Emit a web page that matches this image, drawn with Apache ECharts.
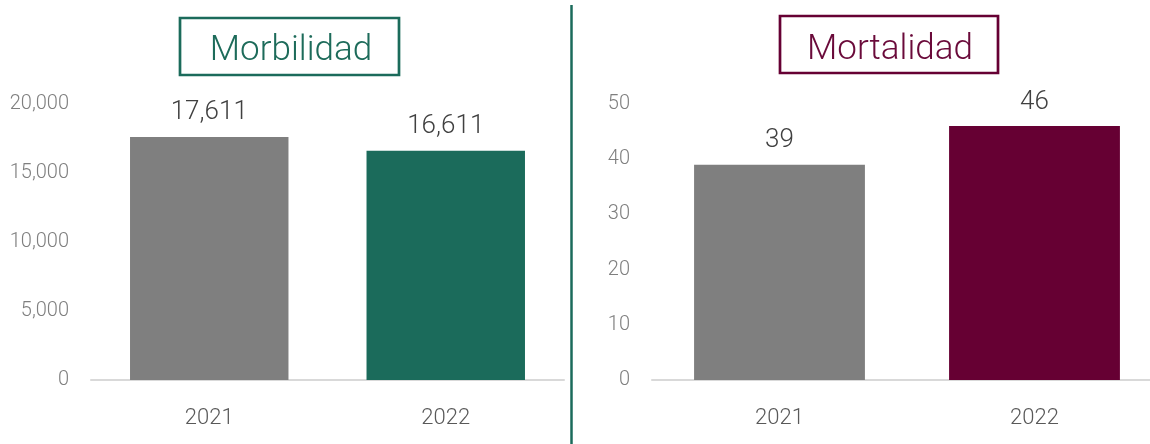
<!DOCTYPE html>
<html>
<head>
<meta charset="utf-8">
<script src="https://cdn.jsdelivr.net/npm/echarts@6/dist/echarts.min.js"></script>
<style>
html,body{margin:0;padding:0;background:#fff;}
#c{width:1150px;height:444px;}
</style>
</head>
<body>
<div id="c"></div>
<script>
const categories = ['2021', '2022'];
const morbilidad = [17611, 16611];
const mortalidad = [39, 46];
const titles = ['Morbilidad', 'Mortalidad'];

const GREY = '#7f7f7f';
const GREEN = '#1b6b5b';
const MAROON = '#660033';
const FONT = 'Roboto';

const chart = echarts.init(document.getElementById('c'), null, {renderer: 'canvas'});

function fmt(v) { return Number(v).toLocaleString('en-US'); }

function yAxis(idx, max, interval) {
  return {
    type: 'value', gridIndex: idx, min: 0, max: max, interval: interval,
    axisLine: {show: false}, axisTick: {show: false}, splitLine: {show: false},
    axisLabel: {fontFamily: FONT, fontWeight: 300, fontSize: 20, color: '#7f7f7f', margin: 22, padding: [4, 0, 0, 0], formatter: fmt}
  };
}
function xAxis(idx) {
  return {
    type: 'category', gridIndex: idx, data: categories,
    axisLine: {show: true, lineStyle: {color: '#d9d9d9', width: 2}},
    axisTick: {show: false},
    axisLabel: {fontFamily: FONT, fontWeight: 300, fontSize: 22, color: '#595959', margin: 27}
  };
}
function series(idx, data, color) {
  return {
    type: 'bar', xAxisIndex: idx, yAxisIndex: idx, barWidth: '67%',
    data: data.map((v, i) => ({value: v, itemStyle: {color: i === 0 ? GREY : color}})),
    label: {show: true, position: 'top', distance: 11, fontFamily: FONT, fontWeight: 300, fontSize: 26, color: '#404040', formatter: p => fmt(p.value)},
    silent: true, animation: false
  };
}

chart.setOption({
  animation: false,
  grid: [
    {left: 91, top: 104, width: 473, height: 276, outerBoundsMode: 'none', containLabel: false},
    {left: 652, top: 104, width: 510, height: 276, outerBoundsMode: 'none', containLabel: false}
  ],
  xAxis: [xAxis(0), xAxis(1)],
  yAxis: [yAxis(0, 20000, 5000), yAxis(1, 50, 10)],
  series: [series(0, morbilidad, GREEN), series(1, mortalidad, MAROON)],
  graphic: [
    {type: 'line', shape: {x1: 571.5, y1: 5, x2: 571.5, y2: 444}, style: {stroke: GREEN, lineWidth: 2.5}},
    {type: 'rect', shape: {x: 180, y: 18, width: 219, height: 57}, style: {fill: 'none', stroke: GREEN, lineWidth: 2.7}},
    {type: 'text', x: 291, y: 51, style: {text: titles[0], fill: '#1d6b5a', font: '300 35px Roboto', textAlign: 'center', textVerticalAlign: 'middle'}},
    {type: 'rect', shape: {x: 780, y: 16, width: 218, height: 57}, style: {fill: 'none', stroke: MAROON, lineWidth: 2.7}},
    {type: 'text', x: 890, y: 50, style: {text: titles[1], fill: '#6a0a3a', font: '300 35px Roboto', textAlign: 'center', textVerticalAlign: 'middle'}}
  ]
});
</script>
</body>
</html>
